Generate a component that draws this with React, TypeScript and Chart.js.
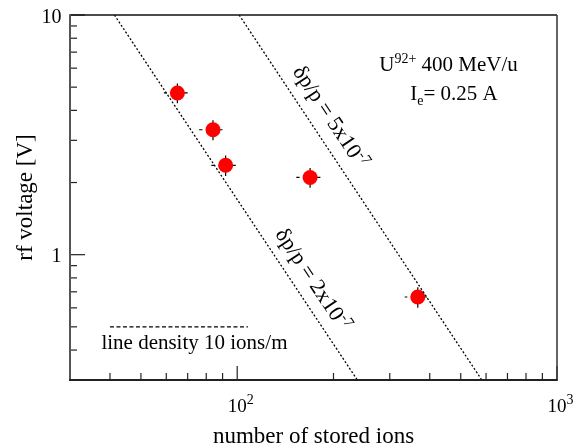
import React, { useEffect, useRef } from "react";
import { Chart, registerables } from "chart.js";

Chart.register(...registerables);

// ---- data ----
const ionCounts = [65, 84, 92, 169, 367];
const rfVoltages = [4.73, 3.32, 2.36, 2.1, 0.666];
const ionErrLow = [6, 8, 9, 16, 33];
const ionErrHigh = [5, 6, 7, 13, 25];
const voltErr = [0.45, 0.32, 0.23, 0.2, 0.065];

// iso-momentum-spread lines (endpoints on the frame)
const line2e7Ions = [41.3, 237.5];
const line2e7Volts = [10, 0.3];
const line5e7Ions = [101.4, 582];
const line5e7Volts = [10, 0.3];

// "line density 10 ions/m" sample line
const densityIons = [40, 108];
const densityVolts = [0.5, 0.5];

// axes
const xMin = 30;
const xMax = 1000;
const yMin = 0.3;
const yMax = 10;
const xMajorTicks = [100, 1000];
const xMajorExponents = ["2", "3"];
const xMinorTicks = [40, 50, 60, 70, 80, 90, 200, 300, 400, 500, 600, 700, 800, 900];
const yMajorTicks = [1, 10];
const yMajorLabels = ["1", "10"];
const yMinorTicks = [0.4, 0.5, 0.6, 0.7, 0.8, 0.9, 2, 3, 4, 5, 6, 7, 8, 9];

const xTitle = "number of stored ions";
const yTitle = "rf voltage [V]";
const label2e7 = { base: "δp/p = 2x10", sup: "-7", anchorV: 0.712 };
const label5e7 = { base: "δp/p = 5x10", sup: "-7", anchorV: 3.38 };
const densityText = "line density 10 ions/m";

const FONT = '"Liberation Serif", "Times New Roman", serif';

type Run = { t: string; size: number; dy?: number; w?: number };

function drawRuns(ctx: CanvasRenderingContext2D, runs: Run[], x: number, y: number, align: string) {
  let total = 0;
  for (const r of runs) {
    ctx.font = `${r.size}px ${FONT}`;
    r.w = ctx.measureText(r.t).width;
    total += r.w;
  }
  let cx = align === "center" ? x - total / 2 : align === "right" ? x - total : x;
  ctx.textAlign = "left";
  ctx.textBaseline = "alphabetic";
  for (const r of runs) {
    ctx.font = `${r.size}px ${FONT}`;
    ctx.fillText(r.t, cx, y + (r.dy || 0));
    cx += r.w || 0;
  }
}

function pts(xs: number[], ys: number[]) {
  return xs.map((v, i) => ({ x: v, y: ys[i] }));
}

const overlay = {
  id: "overlay",
  beforeDatasetsDraw(chart: any) {
    const { ctx } = chart;
    const x = chart.scales.x;
    const y = chart.scales.y;
    ctx.save();
    ctx.strokeStyle = "#000";
    ctx.lineWidth = 1.2;
    ionCounts.forEach((n, i) => {
      const px = x.getPixelForValue(n);
      const py = y.getPixelForValue(rfVoltages[i]);
      const xl = x.getPixelForValue(n - ionErrLow[i]);
      const xh = x.getPixelForValue(n + ionErrHigh[i]);
      const yt = y.getPixelForValue(rfVoltages[i] + voltErr[i]);
      const yb = y.getPixelForValue(rfVoltages[i] - voltErr[i]);
      ctx.beginPath();
      ctx.moveTo(xl, py);
      ctx.lineTo(Math.max(xl, px - 10.5), py);
      ctx.moveTo(px, py);
      ctx.lineTo(xh, py);
      ctx.moveTo(px, yt);
      ctx.lineTo(px, yb);
      ctx.stroke();
    });
    ctx.restore();
  },
  afterDraw(chart: any) {
    const { ctx, chartArea } = chart;
    const { left, right, top, bottom } = chartArea;
    const x = chart.scales.x;
    const y = chart.scales.y;
    ctx.save();

    const seg = (x1: number, y1: number, x2: number, y2: number) => {
      ctx.beginPath();
      ctx.moveTo(x1, y1);
      ctx.lineTo(x2, y2);
      ctx.stroke();
    };

    // ticks
    ctx.strokeStyle = "#222";
    ctx.lineWidth = 1.2;
    for (const v of yMinorTicks) {
      const py = y.getPixelForValue(v);
      seg(left, py, left + 7, py);
    }
    for (const v of yMajorTicks) {
      const py = y.getPixelForValue(v);
      seg(left, py, left + 15, py);
    }
    for (const v of xMinorTicks) {
      const px = x.getPixelForValue(v);
      seg(px, bottom, px, bottom - 7);
    }
    for (const v of xMajorTicks) {
      const px = x.getPixelForValue(v);
      seg(px, bottom, px, bottom - 14);
    }

    // frame
    ctx.lineWidth = 1.5;
    ctx.strokeStyle = "#111";
    seg(left, top, right, top);
    ctx.strokeStyle = "#333";
    seg(right, top, right, bottom);
    ctx.lineWidth = 2;
    ctx.strokeStyle = "#555";
    seg(left, top - 0.75, left, bottom + 1);
    ctx.strokeStyle = "#222";
    seg(left - 1, bottom, right + 0.75, bottom);

    ctx.fillStyle = "#000";

    // y tick labels
    yMajorTicks.forEach((v, i) => {
      const py = y.getPixelForValue(v);
      drawRuns(ctx, [{ t: yMajorLabels[i], size: 20 }], left - 8.5, py + 7.5, "right");
    });
    // x tick labels: "10" centred on the tick, exponent as superscript
    xMajorTicks.forEach((v, i) => {
      const px = x.getPixelForValue(v);
      ctx.font = `19px ${FONT}`;
      const w = ctx.measureText("10").width;
      drawRuns(
        ctx,
        [
          { t: "10", size: 19 },
          { t: xMajorExponents[i], size: 14, dy: -8 },
        ],
        px - w / 2,
        bottom + 32,
        "left"
      );
    });

    // axis titles
    drawRuns(ctx, [{ t: xTitle, size: 23 }], (left + right) / 2, 443, "center");
    ctx.save();
    ctx.translate(32, (top + bottom) / 2);
    ctx.rotate(-Math.PI / 2);
    drawRuns(ctx, [{ t: yTitle, size: 23 }], 0, 0, "center");
    ctx.restore();

    // header annotations
    drawRuns(
      ctx,
      [
        { t: "U", size: 21 },
        { t: "92+", size: 14, dy: -8 },
        { t: " 400 MeV/u", size: 21 },
      ],
      448.5,
      71,
      "center"
    );
    drawRuns(
      ctx,
      [
        { t: "I", size: 21 },
        { t: "e", size: 14, dy: 5 },
        { t: "= 0.25 A", size: 21 },
      ],
      454,
      100,
      "center"
    );

    // density sample text
    const dpx = (x.getPixelForValue(densityIons[0]) + x.getPixelForValue(densityIons[1])) / 2;
    drawRuns(ctx, [{ t: densityText, size: 21 }], dpx + 15.5, y.getPixelForValue(densityVolts[0]) + 22, "center");

    // rotated labels along the lines
    const placeLabel = (ions: number[], volts: number[], lab: any, offset: number) => {
      const p1x = x.getPixelForValue(ions[0]);
      const p1y = y.getPixelForValue(volts[0]);
      const p2x = x.getPixelForValue(ions[1]);
      const p2y = y.getPixelForValue(volts[1]);
      const ang = Math.atan2(p2y - p1y, p2x - p1x);
      const t = (Math.log(lab.anchorV) - Math.log(volts[0])) / (Math.log(volts[1]) - Math.log(volts[0]));
      const logN = Math.log(ions[0]) + t * (Math.log(ions[1]) - Math.log(ions[0]));
      const ax = x.getPixelForValue(Math.exp(logN));
      const ay = y.getPixelForValue(lab.anchorV);
      const cx = ax + Math.sin(ang) * offset;
      const cy = ay - Math.cos(ang) * offset;
      ctx.save();
      ctx.translate(cx, cy);
      ctx.rotate(ang);
      drawRuns(
        ctx,
        [
          { t: lab.base, size: 22 },
          { t: lab.sup, size: 15, dy: -8 },
        ],
        0,
        7,
        "center"
      );
      ctx.restore();
    };
    placeLabel(line2e7Ions, line2e7Volts, label2e7, 19);
    placeLabel(line5e7Ions, line5e7Volts, label5e7, 20);

    ctx.restore();
  },
};

export default function App() {
  const ref = useRef<HTMLCanvasElement | null>(null);
  useEffect(() => {
    if (!ref.current) return;
    const chart = new Chart(ref.current, {
      type: "scatter",
      data: {
        datasets: [
          {
            data: pts(line2e7Ions, line2e7Volts),
            showLine: true,
            pointRadius: 0,
            borderColor: "#000",
            borderWidth: 1.3,
            borderDash: [2, 2],
          },
          {
            data: pts(line5e7Ions, line5e7Volts),
            showLine: true,
            pointRadius: 0,
            borderColor: "#000",
            borderWidth: 1.3,
            borderDash: [2, 2],
          },
          {
            data: pts(densityIons, densityVolts),
            showLine: true,
            pointRadius: 0,
            borderColor: "#000",
            borderWidth: 1.2,
            borderDash: [4, 2.5],
          },
          {
            data: pts(ionCounts, rfVoltages),
            showLine: false,
            pointRadius: 7.5,
            pointBackgroundColor: "#ff0000",
            pointBorderWidth: 0,
            borderColor: "#ff0000",
          },
        ],
      } as any,
      options: {
        responsive: false,
        animation: false,
        events: [],
        layout: { padding: { top: 15, right: 28, left: 0, bottom: 0 } },
        plugins: { legend: { display: false }, tooltip: { enabled: false } },
        scales: {
          x: {
            type: "logarithmic",
            min: xMin,
            max: xMax,
            ticks: { display: false },
            grid: { display: false },
            border: { display: false },
            afterFit: (s: any) => {
              s.height = 68;
            },
          },
          y: {
            type: "logarithmic",
            min: yMin,
            max: yMax,
            ticks: { display: false },
            grid: { display: false },
            border: { display: false },
            afterFit: (s: any) => {
              s.width = 70;
            },
          },
        },
      } as any,
      plugins: [overlay],
    });
    return () => chart.destroy();
  }, []);
  return (
    <div style={{ position: "absolute", left: 0, top: 0, width: 585, height: 448, background: "#fff" }}>
      <canvas ref={ref} width={585} height={448} />
    </div>
  );
}
